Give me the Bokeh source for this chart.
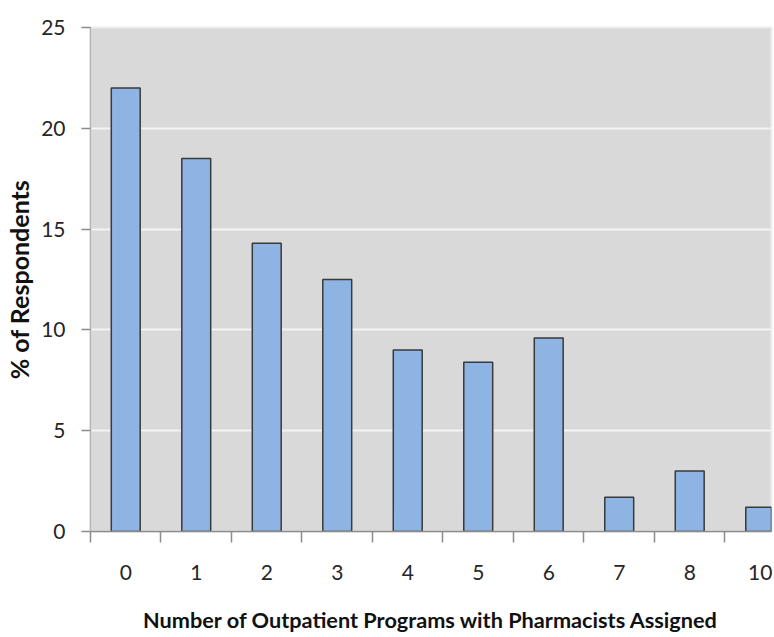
from bokeh.plotting import figure
from bokeh.models import Range1d, FixedTicker, ColumnDataSource
from bokeh.embed import file_html
from bokeh.resources import INLINE

# Data
categories = ["0", "1", "2", "3", "4", "5", "6", "7", "8", "10"]
pct_respondents = [22.0, 18.5, 14.3, 12.5, 9.0, 8.4, 9.6, 1.7, 3.0, 1.2]
y_ticks = [0, 5, 10, 15, 20, 25]

positions = list(range(len(categories)))
source = ColumnDataSource(dict(x=positions, top=pct_respondents, cat=categories))

p = figure(width=774, height=637, output_backend="svg", toolbar_location=None,
           x_range=Range1d(-0.5, 9.16), y_range=Range1d(0, 25),
           min_border_left=90, min_border_right=3, min_border_top=27,
           min_border_bottom=106)

p.background_fill_color = "#D9D9D9"
p.border_fill_color = "white"
p.outline_line_color = "#EDEDED"
p.outline_line_width = 2

p.vbar(x="x", top="top", width=0.41, bottom=0, source=source,
       fill_color="#8EB4E3", line_color="#3A3A3A", line_width=1.5)

# Grid
p.xgrid.grid_line_color = None
p.ygrid.grid_line_color = "#F4F4F4"
p.ygrid.grid_line_width = 2
p.ygrid.ticker = FixedTicker(ticks=y_ticks)

# X axis
xa = p.xaxis[0]
xa.ticker = FixedTicker(ticks=positions,
                        minor_ticks=[i - 0.5 for i in range(len(categories) + 1)])
xa.major_label_overrides = {i: c for i, c in zip(positions, categories)}
xa.major_tick_out = 0
xa.major_tick_in = 0
xa.minor_tick_out = 11
xa.minor_tick_in = 0
xa.minor_tick_line_color = "#8C8C8C"
xa.minor_tick_line_width = 1.5
xa.axis_line_color = "#8C8C8C"
xa.axis_line_width = 1.5
xa.major_label_text_font = "Lato"
xa.major_label_text_font_size = "21px"
xa.major_label_text_color = "#262626"
xa.major_label_standoff = 22
xa.axis_label = "Number of Outpatient Programs with Pharmacists Assigned"
xa.axis_label_text_font = "Lato"
xa.axis_label_text_font_style = "bold"
xa.axis_label_text_font_size = "21.7px"
xa.axis_label_text_color = "#111111"
xa.axis_label_standoff = 24

# Y axis
ya = p.yaxis[0]
ya.ticker = FixedTicker(ticks=y_ticks)
ya.major_tick_out = 9
ya.major_tick_in = 0
ya.minor_tick_out = 0
ya.major_tick_line_color = "#8C8C8C"
ya.major_tick_line_width = 1.5
ya.axis_line_color = "#B4B4B4"
ya.axis_line_width = 1.5
ya.major_label_text_font = "Lato"
ya.major_label_text_font_size = "21px"
ya.major_label_text_color = "#262626"
ya.major_label_standoff = 16
ya.axis_label = "% of Respondents"
ya.axis_label_text_font = "Lato"
ya.axis_label_text_font_style = "bold"
ya.axis_label_text_font_size = "25px"
ya.axis_label_text_color = "#111111"
ya.axis_label_standoff = 4

open("out.html", "w").write(file_html(p, INLINE))
